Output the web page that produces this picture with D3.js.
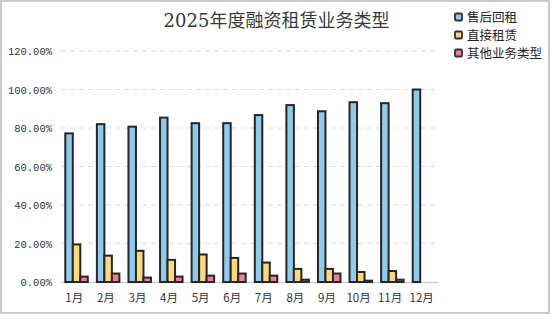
<!DOCTYPE html>
<html>
<head>
<meta charset="utf-8">
<script src="https://cdn.jsdelivr.net/npm/d3@7"></script>
<style>
  html, body { margin: 0; padding: 0; background: #fff; }
  svg { display: block; }
</style>
</head>
<body>
<div id="chart"></div>
<script>
const months = ["1月", "2月", "3月", "4月", "5月", "6月", "7月", "8月", "9月", "10月", "11月", "12月"];
const seriesNames = ["售后回租", "直接租赁", "其他业务类型"];
const saleLeaseback = [77.2, 82.0, 80.7, 85.4, 82.5, 82.5, 86.7, 91.9, 88.7, 93.4, 92.9, 100];
const directLease = [19.5, 13.7, 16.2, 11.5, 14.3, 12.5, 10.1, 6.8, 6.8, 5.2, 5.7, 0];
const otherBusiness = [2.8, 4.4, 2.3, 2.8, 3.3, 4.4, 3.3, 1.2, 4.4, 0.7, 1.2, 0];
const yTicks = [0, 20, 40, 60, 80, 100, 120];
const colors = ["#8ecbee", "#ffd976", "#f27ba0"];

const width = 553, height = 324;
const cjk = "'Noto Sans CJK SC', 'Noto Sans', sans-serif";

const svg = d3.select("#chart").append("svg")
  .attr("width", width)
  .attr("height", height);

// outer frame
svg.append("rect")
  .attr("x", 1).attr("y", 1)
  .attr("width", 548).attr("height", 312)
  .attr("fill", "#fff")
  .attr("stroke", "#cacaca")
  .attr("stroke-width", 2);

svg.append("text")
  .attr("x", 276.5).attr("y", 27)
  .attr("text-anchor", "middle")
  .attr("font-family", "'DejaVu Serif', 'Noto Sans CJK SC', serif")
  .attr("font-size", 18)
  .attr("fill", "#3a3a3a")
  .text("2025年度融资租赁业务类型");

const x = d3.scaleBand().domain(months).range([59, 438]).padding(0);
const y = d3.scaleLinear().domain([0, 120]).range([282, 51]);
const x1 = d3.scaleBand().domain(d3.range(3)).range([0, 22.5]);

// grid
svg.append("g")
  .selectAll("line")
  .data(yTicks.filter((d) => d > 0))
  .enter().append("line")
  .attr("x1", 61).attr("x2", 436)
  .attr("y1", (d) => y(d)).attr("y2", (d) => y(d))
  .attr("stroke", "#dcdcdc")
  .attr("stroke-width", 1)
  .attr("stroke-dasharray", "5,4");

// y labels
svg.append("g")
  .selectAll("text")
  .data(yTicks)
  .enter().append("text")
  .attr("x", 52)
  .attr("y", (d) => y(d) + 4)
  .attr("text-anchor", "end")
  .attr("font-family", "'Liberation Mono', monospace")
  .attr("font-size", 10.5)
  .attr("fill", "#333")
  .text((d) => d.toFixed(2) + "%");

// baseline
svg.append("line")
  .attr("x1", 61).attr("x2", 439)
  .attr("y1", 282.5).attr("y2", 282.5)
  .attr("stroke", "#d0d0d0")
  .attr("stroke-width", 1.5);

const series = [saleLeaseback, directLease, otherBusiness];
const groups = svg.append("g")
  .selectAll("g")
  .data(months)
  .enter().append("g")
  .attr("transform", (d) => `translate(${x(d) + x.bandwidth() / 2 - 9.5},0)`);

groups.selectAll("rect")
  .data((m, i) => series.map((s, k) => ({ k: k, v: s[i] })))
  .enter().append("rect")
  .attr("x", (d) => x1(d.k))
  .attr("width", x1.bandwidth())
  .attr("y", (d) => y(d.v))
  .attr("height", (d) => y(0) - y(d.v))
  .attr("fill", (d) => colors[d.k])
  .attr("stroke", "#262626")
  .attr("stroke-width", 2);

// x labels
svg.append("g")
  .selectAll("text")
  .data(months)
  .enter().append("text")
  .attr("x", (d) => x(d) + x.bandwidth() / 2 - 0.5)
  .attr("y", 302)
  .attr("text-anchor", "middle")
  .attr("font-family", cjk)
  .attr("font-size", 11.5)
  .attr("fill", "#333")
  .text((d) => d);

// legend
const legend = svg.append("g")
  .selectAll("g")
  .data(seriesNames)
  .enter().append("g")
  .attr("transform", (d, i) => `translate(455,${17 + i * 18})`);

legend.append("rect")
  .attr("x", 0).attr("y", -3.5)
  .attr("width", 7).attr("height", 7)
  .attr("rx", 1)
  .attr("fill", (d, i) => colors[i])
  .attr("stroke", "#333")
  .attr("stroke-width", 1.8);

legend.append("text")
  .attr("x", 12).attr("y", 4.5)
  .attr("font-family", cjk)
  .attr("font-size", 12.5)
  .attr("fill", "#222")
  .text((d) => d);
</script>
</body>
</html>
